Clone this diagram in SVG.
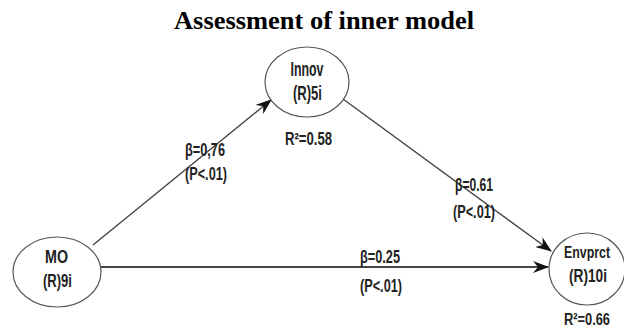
<svg xmlns="http://www.w3.org/2000/svg" width="624" height="332" viewBox="0 0 624 332">
<style>
.title{font-family:"Liberation Serif",serif;font-weight:bold;font-size:25px;fill:#000}
.node ellipse{fill:#fff;stroke:#555;stroke-width:1.2}
.lbl{font-family:"Liberation Sans",Arial,sans-serif;font-weight:bold;font-size:18px;fill:#222;text-anchor:middle}
.big{font-size:20px}
.sm{font-size:16px}
.edge{stroke:#444;stroke-width:1.4;fill:none;marker-end:url(#ah)}
</style>
<defs>
<marker id="ah" viewBox="0 0 16 12" refX="15" refY="6" markerWidth="16" markerHeight="12" markerUnits="userSpaceOnUse" orient="auto">
<path d="M0,0 L16,6 L0,12 L5,6 Z" fill="#111"/>
</marker>
</defs>
<rect width="624" height="332" fill="#fff"/>
<text class="title" x="324" y="29" text-anchor="middle" textLength="300" lengthAdjust="spacingAndGlyphs">Assessment of inner model</text>
<g id="connectors">
<path class="edge" d="M93,245 L271,100"/>
<path class="edge" d="M343,99 L551,251"/>
<path class="edge" style="stroke-width:2" d="M101,267 L548,267"/>
</g>
<g id="edge-labels">
<text class="lbl" x="205" y="156" textLength="40" lengthAdjust="spacingAndGlyphs">β=0,76</text>
<text class="lbl" x="206" y="180" textLength="42" lengthAdjust="spacingAndGlyphs">(P&lt;.01)</text>
<text class="lbl" x="474" y="191" textLength="38" lengthAdjust="spacingAndGlyphs">β=0.61</text>
<text class="lbl" x="474" y="218" textLength="42" lengthAdjust="spacingAndGlyphs">(P&lt;.01)</text>
<text class="lbl" x="380" y="263" textLength="40" lengthAdjust="spacingAndGlyphs">β=0.25</text>
<text class="lbl" x="381" y="292" textLength="42" lengthAdjust="spacingAndGlyphs">(P&lt;.01)</text>
</g>
<g id="MO" class="node">
<ellipse cx="57" cy="272" rx="44" ry="35"/>
<text class="lbl" x="56.5" y="263" textLength="23" lengthAdjust="spacingAndGlyphs">MO</text>
<text class="lbl" x="57.5" y="287" textLength="29" lengthAdjust="spacingAndGlyphs">(R)9i</text>
</g>
<g id="Innov" class="node">
<ellipse cx="307" cy="82" rx="42" ry="35"/>
<text class="lbl big" x="307" y="76" textLength="33" lengthAdjust="spacingAndGlyphs">Innov</text>
<text class="lbl big" x="307.5" y="100" textLength="29" lengthAdjust="spacingAndGlyphs">(R)5i</text>
<text class="lbl" x="308.5" y="145" textLength="47" lengthAdjust="spacingAndGlyphs">R²=0.58</text>
</g>
<g id="Envprct" class="node">
<ellipse cx="587" cy="269" rx="38" ry="36"/>
<text class="lbl sm" x="587" y="258" textLength="46" lengthAdjust="spacingAndGlyphs">Envprct</text>
<text class="lbl" x="588" y="282" textLength="38" lengthAdjust="spacingAndGlyphs">(R)10i</text>
<text class="lbl sm" x="587" y="325" textLength="46" lengthAdjust="spacingAndGlyphs">R²=0.66</text>
</g>
</svg>
